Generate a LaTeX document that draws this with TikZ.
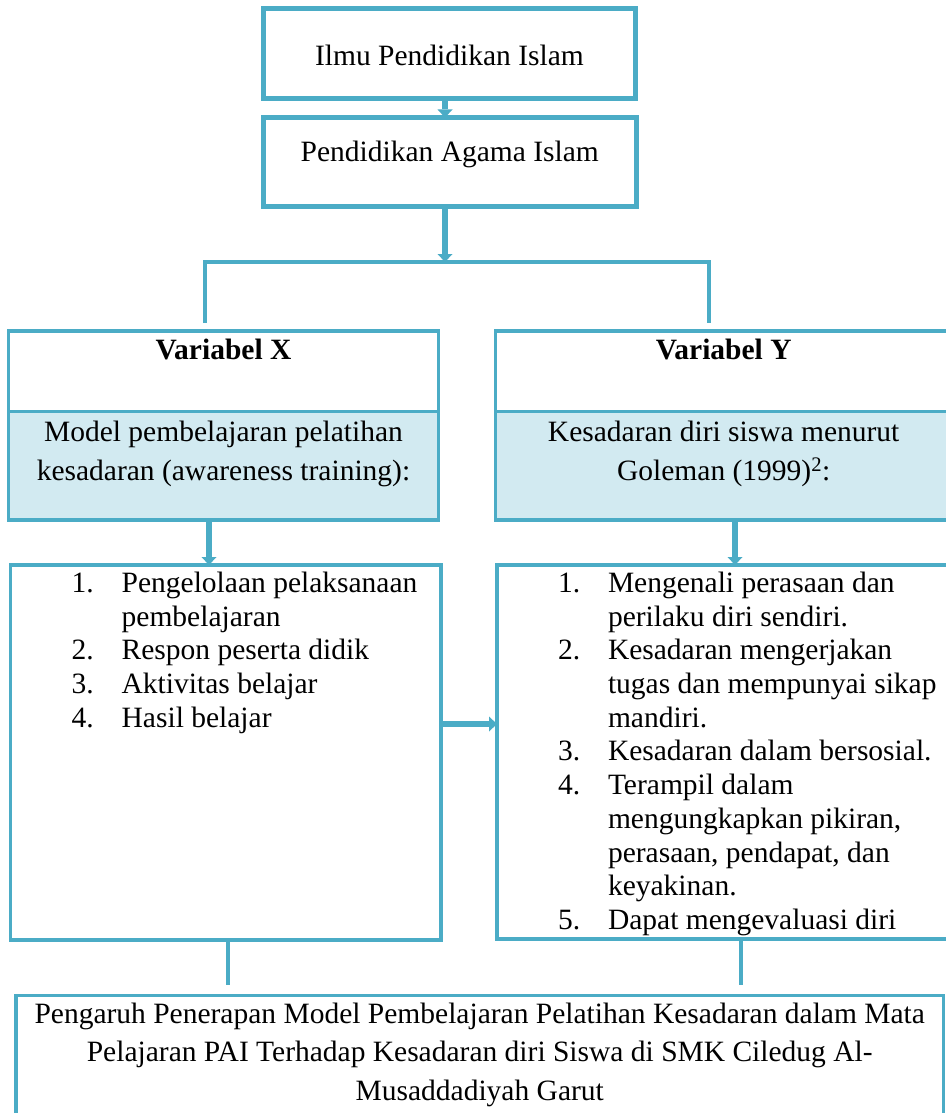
\documentclass[tikz,border=0pt]{standalone}
\usepackage{fontspec}
\setmainfont{Liberation Serif}
\usepackage{enumitem}
\usetikzlibrary{arrows.meta}
\usetikzlibrary{positioning}

\definecolor{biru}{RGB}{75,172,198}
\definecolor{birumuda}{RGB}{210,234,241}

\newcommand{\isikotak}[3]{\begin{minipage}[t][#2][t]{#1}#3\end{minipage}}

\tikzset{
  kotak/.style={draw=biru, line width=3.5pt, inner sep=0pt, outer sep=0pt},
  kotakatas/.style={kotak, line width=5pt},
  garis/.style={draw=biru, line width=4.5pt},
  panah/.style={draw=biru, line width=6pt, -{Triangle[length=8pt,width=15pt,line width=0pt]}},
}

\begin{document}
\begin{tikzpicture}[x=1pt, y=-1pt, every node/.style={font=\fontsize{29.5}{33.7}\selectfont}]
\useasboundingbox (0,0) rectangle (945,1113);

% kotak atas
\node[kotakatas, anchor=north west] (ilmu) at (263.5,9)
  {\isikotak{372pt}{90pt}{\centering\vspace*{35.8pt}Ilmu Pendidikan Islam}};
\node[kotakatas, anchor=north west] (agama) at (263.5,117.5)
  {\isikotak{372.5pt}{89pt}{\centering\vspace*{24pt}Pendidikan Agama Islam}};

% variabel X dan Y
\node[kotak, anchor=north west] (varx) at (8.7,331)
  {\isikotak{429.6pt}{80.5pt}{\centering\vspace*{8.5pt}\textbf{Variabel X}}};
\node[kotak, fill=birumuda, below=0pt of varx] (modelx)
  {\isikotak{429.6pt}{108.5pt}{\centering\baselineskip=38.3pt\vspace*{10pt}Model pembelajaran pelatihan\\kesadaran (awareness training):}};
\node[kotak, anchor=north west] (vary) at (495.7,331)
  {\isikotak{456pt}{80.5pt}{\centering\vspace*{8.5pt}\textbf{Variabel Y}}};
\node[kotak, fill=birumuda, below=0pt of vary] (modely)
  {\isikotak{456pt}{108.5pt}{\centering\baselineskip=38.3pt\vspace*{10pt}Kesadaran diri siswa menurut\\Goleman (1999)\textsuperscript{2}:}};

% daftar indikator
\node[kotak, anchor=north west] (daftarx) at (10.7,565)
  {\isikotak{430.3pt}{375pt}{\raggedright\vspace*{7pt}
  \begin{enumerate}[nosep, leftmargin=111pt, labelwidth=50pt, labelsep=0pt, align=left]
    \item Pengelolaan pelaksanaan\\pembelajaran
    \item Respon peserta didik
    \item Aktivitas belajar
    \item Hasil belajar
  \end{enumerate}}};
\node[kotak, anchor=north west] (daftary) at (497,565)
  {\isikotak{455pt}{374pt}{\raggedright\vspace*{7pt}
  \begin{enumerate}[nosep, leftmargin=111pt, labelwidth=50pt, labelsep=0pt, align=left]
    \item Mengenali perasaan dan\\perilaku diri sendiri.
    \item Kesadaran mengerjakan\\tugas dan mempunyai sikap\\mandiri.
    \item Kesadaran dalam bersosial.
    \item Terampil dalam\\mengungkapkan pikiran,\\perasaan, pendapat, dan\\keyakinan.
    \item Dapat mengevaluasi diri
  \end{enumerate}}};

% judul penelitian
\node[kotak, anchor=north west] (judul) at (16,995.3)
  {\isikotak{927.5pt}{130pt}{\centering\baselineskip=38.5pt\vspace*{7.5pt}Pengaruh Penerapan Model Pembelajaran Pelatihan Kesadaran dalam Mata\\Pelajaran PAI Terhadap Kesadaran diri Siswa di SMK Ciledug Al-\\Musaddadiyah Garut}};

% titik bantu
\coordinate (cabang) at (445,262);
\coordinate (turunx) at (205,323);
\coordinate (turuny) at (709,323);
\coordinate (jalurx) at (209,0);
\coordinate (jalury) at (735,0);
\coordinate (jalurh) at (0,724);
\coordinate (bawahx) at (228,985);
\coordinate (bawahy) at (741,985);

% penghubung
\draw[panah] (ilmu.south -| cabang) -- (agama.north -| cabang);
\draw[panah] (agama.south -| cabang) -- (cabang);
\draw[garis] (turunx) |- (cabang) -| (turuny);
\draw[panah] (modelx.south -| jalurx) -- (daftarx.north -| jalurx);
\draw[panah] (modely.south -| jalury) -- (daftary.north -| jalury);
\draw[panah] (daftarx.east |- jalurh) -- (daftary.west |- jalurh);
\draw[garis] (daftarx.south -| bawahx) -- (bawahx);
\draw[garis] (daftary.south -| bawahy) -- (bawahy);
\end{tikzpicture}
\end{document}
